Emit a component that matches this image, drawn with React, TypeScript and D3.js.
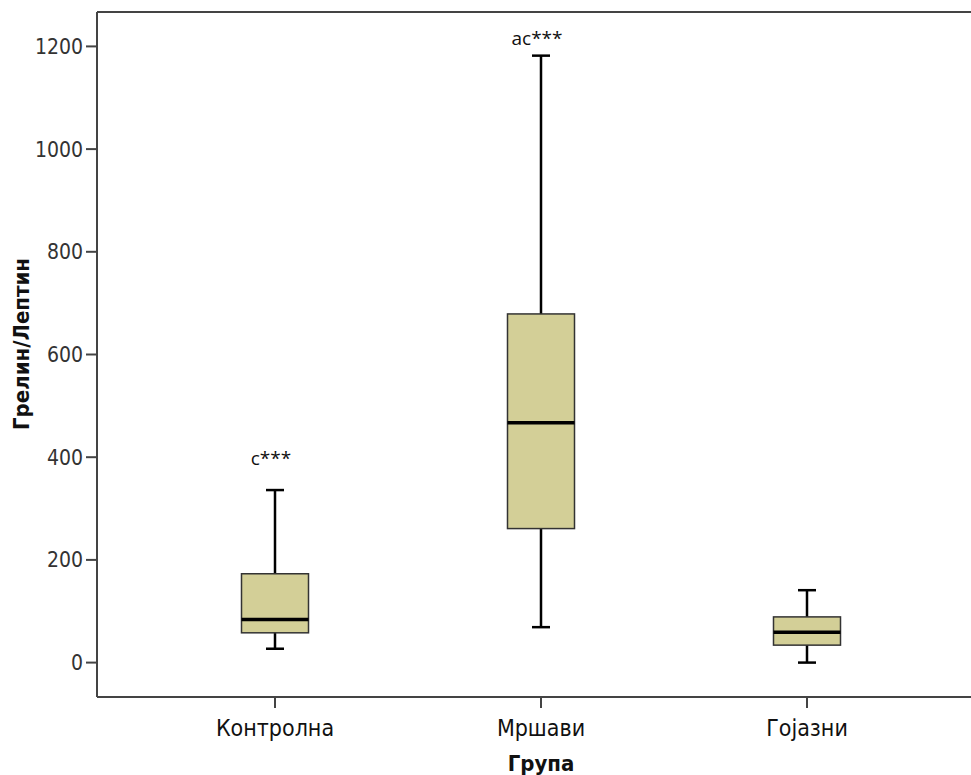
import React, { useRef, useEffect } from "react";
import * as d3 from "d3";

const groups = ["Контролна", "Мршави", "Гојазни"];
const whiskerLow = [27, 69, 0];
const q1 = [58, 261, 34];
const median = [84, 467, 59];
const q3 = [173, 679, 89];
const whiskerHigh = [336, 1182, 141];
const notes = ["c***", "ac***", ""];
const noteValue = [385, 1203, 0];
const yTicks = [0, 200, 400, 600, 800, 1000, 1200];

const App = () => {
  const ref = useRef<SVGSVGElement>(null);

  useEffect(() => {
    const svg = d3.select(ref.current);
    svg.selectAll("*").remove();

    const width = 971;
    const height = 775;
    const left = 97;
    const top = 12;
    const bottom = 697;

    const narrow = "'Liberation Sans Narrow', 'Arial Narrow', 'DejaVu Sans Condensed', sans-serif";

    const y = d3.scaleLinear().domain([-67, 1267]).range([bottom, top]);
    const x = d3.scalePoint<string>().domain(groups).range([275, 807]);
    const boxW = 67;
    const capW = 18;

    svg.attr("width", width).attr("height", height);

    // frame
    svg.append("line")
      .attr("x1", left).attr("x2", left).attr("y1", top).attr("y2", bottom)
      .attr("stroke", "#444").attr("stroke-width", 2);
    svg.append("line")
      .attr("x1", left).attr("x2", width).attr("y1", top).attr("y2", top)
      .attr("stroke", "#444").attr("stroke-width", 2);
    svg.append("line")
      .attr("x1", left).attr("x2", width).attr("y1", bottom).attr("y2", bottom)
      .attr("stroke", "#444").attr("stroke-width", 2);

    // y ticks
    const yt = svg.append("g");
    yt.selectAll("line")
      .data(yTicks)
      .enter()
      .append("line")
      .attr("x1", left - 11).attr("x2", left)
      .attr("y1", (d) => y(d)).attr("y2", (d) => y(d))
      .attr("stroke", "#444").attr("stroke-width", 2);
    yt.selectAll("text")
      .data(yTicks)
      .enter()
      .append("text")
      .attr("x", left - 14)
      .attr("y", (d) => y(d))
      .attr("dy", "0.36em")
      .attr("text-anchor", "end")
      .attr("font-family", narrow)
      .attr("font-size", 21)
      .attr("fill", "#333")
      .text((d) => d);

    // x ticks
    const xt = svg.append("g");
    xt.selectAll("line")
      .data(groups)
      .enter()
      .append("line")
      .attr("x1", (d) => x(d)!).attr("x2", (d) => x(d)!)
      .attr("y1", bottom).attr("y2", bottom + 11)
      .attr("stroke", "#444").attr("stroke-width", 2);
    xt.selectAll("text")
      .data(groups)
      .enter()
      .append("text")
      .attr("x", (d) => x(d)!)
      .attr("y", 736)
      .attr("text-anchor", "middle")
      .attr("font-family", narrow)
      .attr("font-size", 23)
      .attr("fill", "#111")
      .text((d) => d);

    svg.append("text")
      .attr("x", 541)
      .attr("y", 771)
      .attr("text-anchor", "middle")
      .attr("font-family", narrow)
      .attr("font-weight", "bold")
      .attr("font-size", 22)
      .attr("fill", "#111")
      .text("Група");

    svg.append("text")
      .attr("transform", "translate(29, 344) rotate(-90)")
      .attr("text-anchor", "middle")
      .attr("font-family", narrow)
      .attr("font-weight", "bold")
      .attr("font-size", 22)
      .attr("fill", "#111")
      .text("Грелин/Лептин");

    // boxes
    const boxes = svg.selectAll(".box")
      .data(groups)
      .enter()
      .append("g")
      .attr("class", "box");

    boxes.append("line")
      .attr("x1", (d) => x(d)!).attr("x2", (d) => x(d)!)
      .attr("y1", (d, i) => y(whiskerHigh[i])).attr("y2", (d, i) => y(whiskerLow[i]))
      .attr("stroke", "#000").attr("stroke-width", 2.5);
    boxes.append("line")
      .attr("x1", (d) => x(d)! - capW / 2).attr("x2", (d) => x(d)! + capW / 2)
      .attr("y1", (d, i) => y(whiskerHigh[i])).attr("y2", (d, i) => y(whiskerHigh[i]))
      .attr("stroke", "#000").attr("stroke-width", 2.5);
    boxes.append("line")
      .attr("x1", (d) => x(d)! - capW / 2).attr("x2", (d) => x(d)! + capW / 2)
      .attr("y1", (d, i) => y(whiskerLow[i])).attr("y2", (d, i) => y(whiskerLow[i]))
      .attr("stroke", "#000").attr("stroke-width", 2.5);
    boxes.append("rect")
      .attr("x", (d) => x(d)! - boxW / 2)
      .attr("width", boxW)
      .attr("y", (d, i) => y(q3[i]))
      .attr("height", (d, i) => y(q1[i]) - y(q3[i]))
      .attr("fill", "#d3cf97")
      .attr("stroke", "#333")
      .attr("stroke-width", 1.5);
    boxes.append("line")
      .attr("x1", (d) => x(d)! - boxW / 2).attr("x2", (d) => x(d)! + boxW / 2)
      .attr("y1", (d, i) => y(median[i])).attr("y2", (d, i) => y(median[i]))
      .attr("stroke", "#000").attr("stroke-width", 3.5);

    boxes.append("text")
      .attr("x", (d) => x(d)! - 4)
      .attr("y", (d, i) => y(noteValue[i]))
      .attr("text-anchor", "middle")
      .attr("font-family", "'Open Sans', 'DejaVu Sans', sans-serif")
      .attr("font-size", 19)
      .attr("fill", "#111")
      .text((d, i) => notes[i]);
  }, []);

  return (
    <svg ref={ref} style={{ position: "absolute", left: 0, top: 0, background: "#fff" }}></svg>
  );
};

export default App;
